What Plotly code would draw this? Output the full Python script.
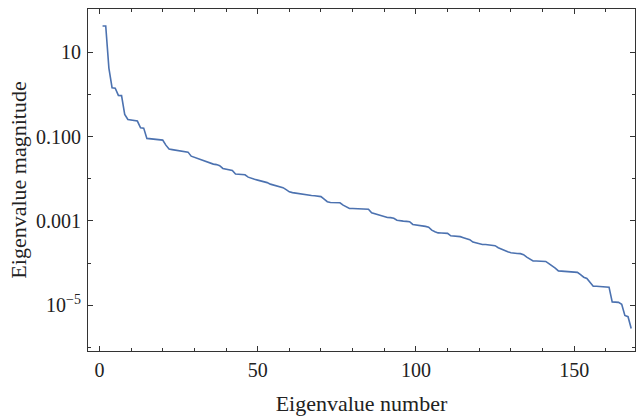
import plotly.graph_objects as go

eigen_number = list(range(1, 169))
eigen_magnitude = [
    41.3, 41.3, 4.18, 1.43, 1.40, 0.942, 0.931, 0.334, 0.254, 0.245,
    0.238, 0.232, 0.161, 0.158, 0.0902, 0.0882, 0.0868, 0.0853, 0.0840, 0.0822,
    0.0625, 0.0503, 0.0490, 0.0476, 0.0463, 0.0456, 0.0444, 0.0427, 0.0343, 0.0322,
    0.0299, 0.0287, 0.0268, 0.0247, 0.0228, 0.0222, 0.0216, 0.0204, 0.0175, 0.0169,
    0.0164, 0.0156, 0.0129, 0.0127, 0.0126, 0.0124, 0.0109, 0.01005, 0.00968, 0.00927,
    0.00887, 0.00853, 0.00809, 0.00745, 0.00705, 0.00668, 0.00640, 0.00615, 0.00552, 0.00490,
    0.00469, 0.00456, 0.00444, 0.00427, 0.00409, 0.00404, 0.00400, 0.00395, 0.00391, 0.00377,
    0.00329, 0.00286, 0.00274, 0.00273, 0.00272, 0.00270, 0.00237, 0.00212, 0.00198, 0.00197,
    0.00195, 0.00195, 0.00195, 0.00194, 0.00190, 0.00157, 0.00149, 0.00137, 0.00130, 0.00123,
    0.00121, 0.00120, 0.00116, 0.00104, 0.00100, 0.000989, 0.000979, 0.000962, 0.000826, 0.000813,
    0.000787, 0.000766, 0.000745, 0.000713, 0.000605, 0.000557, 0.000522, 0.000520, 0.000514, 0.000508,
    0.000444, 0.000441, 0.000436, 0.000425, 0.000402, 0.000381, 0.000361, 0.000315, 0.000298, 0.000285,
    0.000277, 0.000276, 0.000274, 0.000272, 0.000260, 0.000233, 0.000215, 0.000198, 0.000187, 0.000177,
    0.000170, 0.000169, 0.000168, 0.000159, 0.000139, 0.000124, 0.000113, 0.000113, 0.000112, 0.000111,
    0.000110, 9.73e-5, 8.73e-5, 7.62e-5, 6.56e-5, 6.50e-5, 6.46e-5, 6.39e-5, 6.32e-5, 6.22e-5,
    6.05e-5, 5.34e-5, 4.66e-5, 4.34e-5, 3.55e-5, 2.85e-5, 2.84e-5, 2.82e-5, 2.81e-5, 2.77e-5,
    2.70e-5, 1.21e-5, 1.19e-5, 1.18e-5, 1.06e-5, 5.79e-6, 5.40e-6, 2.84e-6,
]

x_tick_vals = [0, 50, 100, 150]
y_tick_vals = [10, 0.1, 0.001, 1e-5]
y_tick_text = ["10", "0.100", "0.001", "10<sup>\u22125</sup>"]

FONT = "Liberation Serif"
AX = "#333333"

fig = go.Figure()
fig.add_trace(go.Scatter(
    x=eigen_number, y=eigen_magnitude, mode="lines",
    line=dict(color="#4C72B0", width=1.6), showlegend=False,
))

fig.update_layout(
    width=636, height=420,
    margin=dict(l=88, r=1, t=9, b=69),
    paper_bgcolor="white", plot_bgcolor="white",
    font=dict(family=FONT, size=20, color="#222222"),
)
fig.update_xaxes(
    range=[-3.6, 169.2], showgrid=False, zeroline=False,
    showline=True, linecolor=AX, linewidth=1, mirror="allticks",
    ticks="inside", ticklen=5, tickcolor=AX, tickwidth=1,
    tickvals=x_tick_vals, ticklabelstandoff=1,
    minor=dict(ticks="inside", ticklen=3, dtick=10, tickcolor=AX, showgrid=False),
    title=dict(text="Eigenvalue number", standoff=15, font=dict(size=22)),
)
fig.update_yaxes(
    type="log", range=[-6.08, 2.02], showgrid=False, zeroline=False,
    showline=True, linecolor=AX, linewidth=1, mirror="allticks",
    ticks="inside", ticklen=5, tickcolor=AX, tickwidth=1,
    tickvals=y_tick_vals, ticktext=y_tick_text, ticklabelstandoff=2,
    minor=dict(ticks="inside", ticklen=3, tickvals=[1, 0.01, 1e-4, 1e-6], tickcolor=AX, showgrid=False),
    title=dict(text="Eigenvalue magnitude", standoff=3, font=dict(size=22)),
)

fig.write_html("out.html")
